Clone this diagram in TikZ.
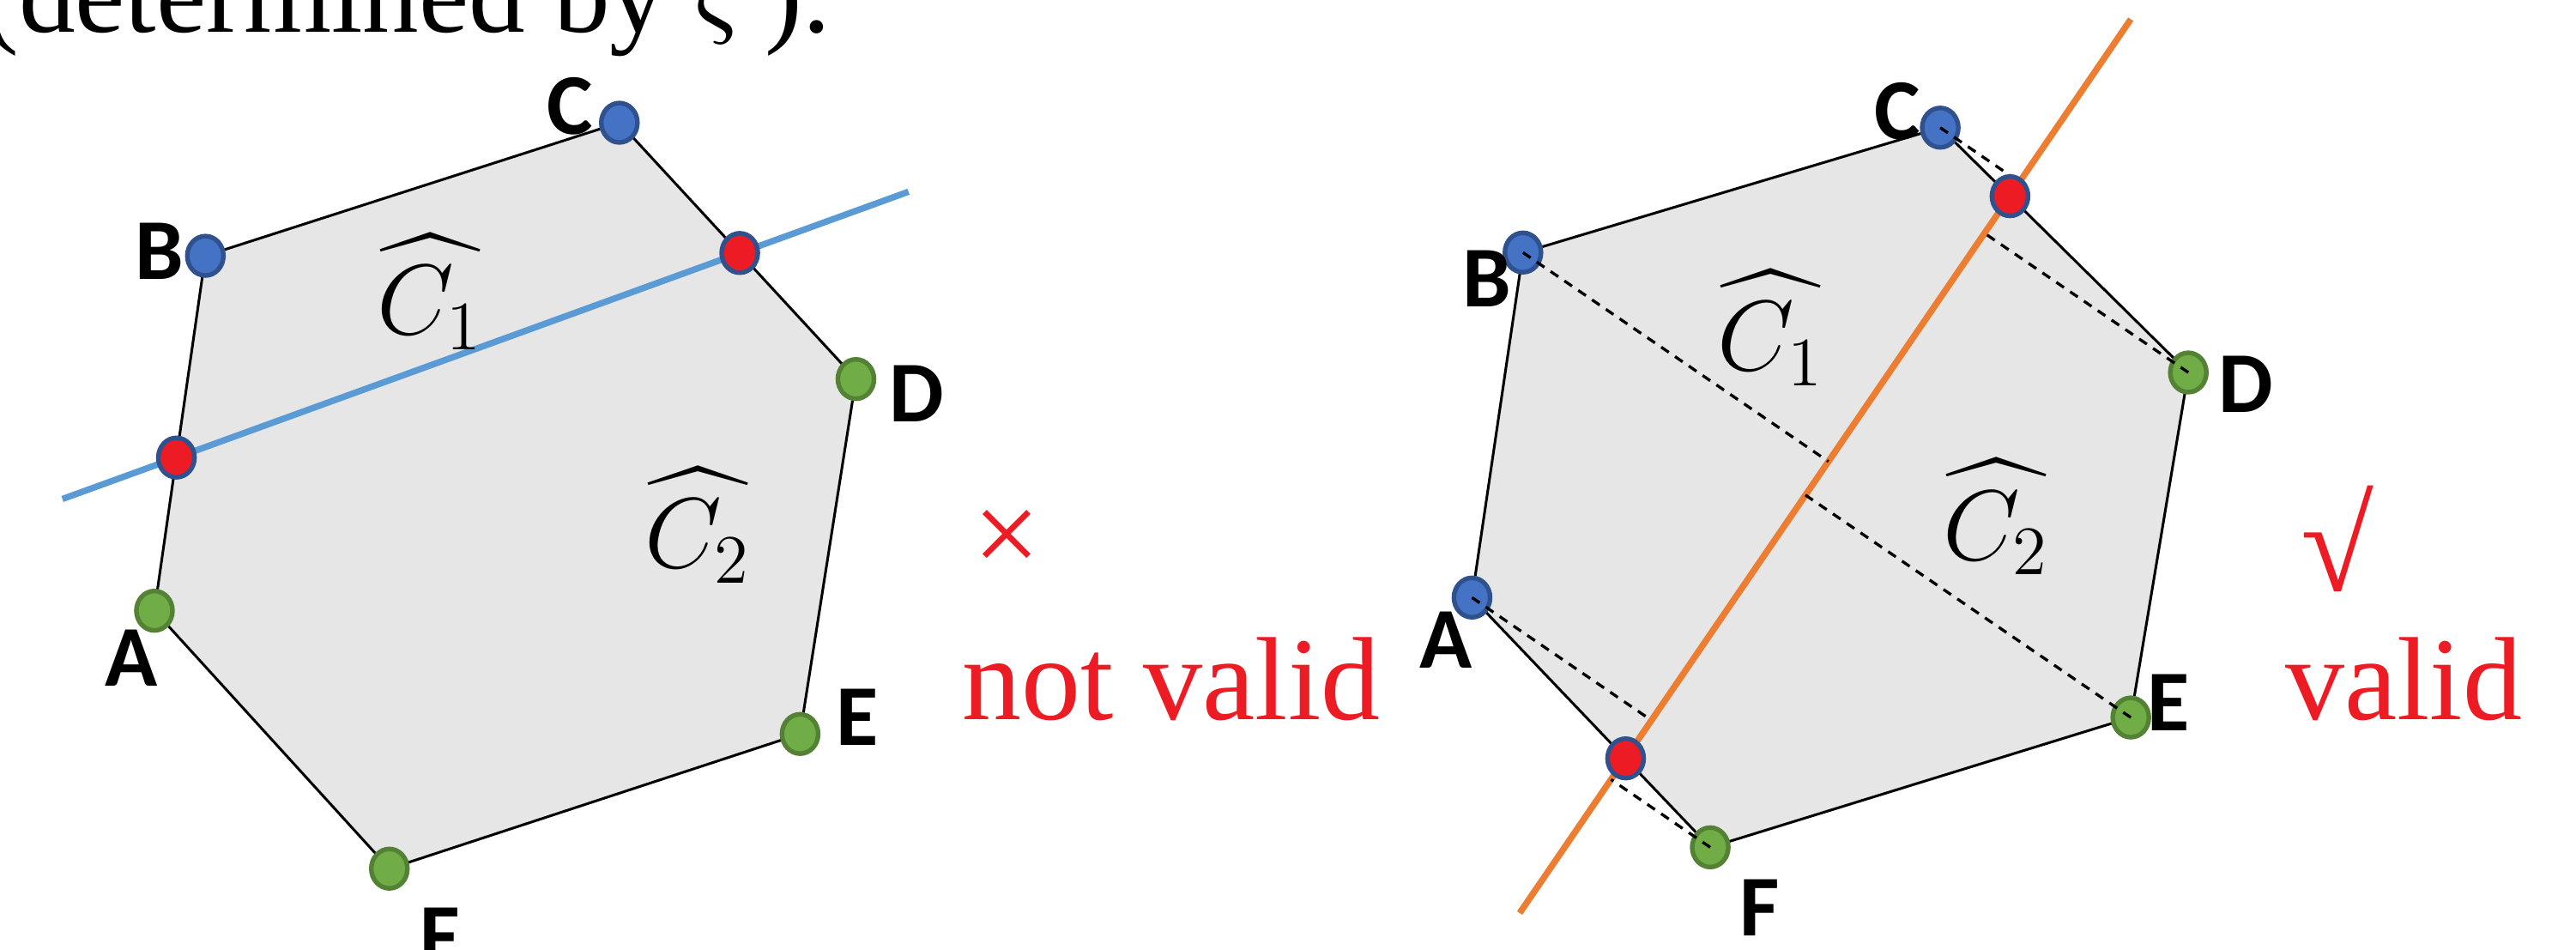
\documentclass[tikz,border=0pt]{standalone}
\usepackage{amsmath}
\usepackage{fontspec}
\setmainfont{Liberation Serif}
\newfontfamily\labelfont{Carlito}
\usetikzlibrary{
  arrows.meta,
  positioning,
  calc,
  shapes.geometric
}
\definecolor{DotBlue}{RGB}{68,114,196}
\definecolor{DotBlueEdge}{RGB}{47,82,143}
\definecolor{DotGreen}{RGB}{112,173,71}
\definecolor{DotGreenEdge}{RGB}{84,130,53}
\definecolor{DotRed}{RGB}{237,28,36}
\definecolor{HullGray}{RGB}{231,230,230}
\definecolor{CutBlue}{RGB}{91,155,213}
\definecolor{CutOrange}{RGB}{237,125,49}
\definecolor{VerdictRed}{RGB}{237,28,36}
\tikzset{
  hull/.style={draw=black,fill=HullGray,line width=0.45pt,line join=round},
  cutblue/.style={draw=CutBlue,line width=1.1pt},
  cutorange/.style={draw=CutOrange,line width=1.1pt},
  bluedot/.style={ellipse,draw=DotBlueEdge,fill=DotBlue,line width=0.8pt,minimum width=2.2mm,minimum height=2.4mm,inner sep=0pt},
  greendot/.style={ellipse,draw=DotGreenEdge,fill=DotGreen,line width=0.8pt,minimum width=2.2mm,minimum height=2.4mm,inner sep=0pt},
  reddot/.style={ellipse,draw=DotBlueEdge,fill=DotRed,line width=0.8pt,minimum width=2.2mm,minimum height=2.4mm,inner sep=0pt},
  vertexlabel/.style={font=\labelfont\bfseries\fontsize{15}{15}\selectfont,inner sep=0pt},
  partlabel/.style={font=\fontsize{16.5}{17}\selectfont,inner sep=0pt},
  verdict/.style={text=VerdictRed,font=\fontsize{20.5}{21}\selectfont,inner sep=0pt},
  topline/.style={font=\fontsize{19.5}{20}\selectfont,inner sep=0pt},
  projline/.style={dash pattern=on 1.6pt off 1.3pt,line width=0.5pt}
}

\begin{document}
\begin{tikzpicture}
\useasboundingbox (0,0) rectangle (15.68,5.777);
\clip (0,0) rectangle (15.68,5.777);
\node[topline, anchor=base west] (caption) at (-0.12,5.58) {(determined by $\varsigma$\,).};

% left: not valid
\coordinate (lA) at (0.94,2.06);
\coordinate (lB) at (1.25,4.22);
\coordinate (lC) at (3.77,5.03);
\coordinate (lD) at (5.21,3.47);
\coordinate (lE) at (4.87,1.31);
\coordinate (lF) at (2.37,0.49);
\coordinate (lcut1) at (0.38,2.74);
\coordinate (lcut2) at (5.53,4.61);
\filldraw[hull] (lA) -- (lB) -- (lC) -- (lD) -- (lE) -- (lF) -- cycle;
\draw[cutblue] (lcut1) -- (lcut2);
\node[greendot] (ldotA) at (lA) {};
\node[bluedot] (ldotB) at (lB) {};
\node[bluedot] (ldotC) at (lC) {};
\node[greendot] (ldotD) at (lD) {};
\node[greendot] (ldotE) at (lE) {};
\node[greendot] (ldotF) at (lF) {};
\node[reddot] (lhit1) at (intersection of lA--lB and lcut1--lcut2) {};
\node[reddot] (lhit2) at (intersection of lC--lD and lcut1--lcut2) {};
\node[vertexlabel] (lnameA) at (0.80,1.77) {A};
\node[vertexlabel] (lnameB) at (0.97,4.25) {B};
\node[vertexlabel] (lnameC) at (3.47,5.13) {C};
\node[vertexlabel] (lnameD) at (5.58,3.38) {D};
\node[vertexlabel] (lnameE) at (5.22,1.41) {E};
\node[vertexlabel] (lnameF) at (2.68,0.08) {F};
\node[partlabel] (lpart1) at (2.62,4.00) {$\widehat{C_1}$};
\node[partlabel] (lpart2) at (4.25,2.58) {$\widehat{C_2}$};
\node[verdict] (lmark) at (6.13,2.48) {×};
\node[verdict, anchor=base] (lverdict) at (7.13,1.40) {not valid};

% right: valid
\coordinate (rA) at (8.96,2.14);
\coordinate (rB) at (9.27,4.24);
\coordinate (rC) at (11.81,5.00);
\coordinate (rD) at (13.32,3.51);
\coordinate (rE) at (12.97,1.41);
\coordinate (rF) at (10.41,0.62);
\coordinate (rcut1) at (9.25,0.22);
\coordinate (rcut2) at (12.97,5.66);
\filldraw[hull] (rA) -- (rB) -- (rC) -- (rD) -- (rE) -- (rF) -- cycle;
\draw[cutorange] (rcut1) -- (rcut2);
\node[bluedot] (rdotA) at (rA) {};
\node[bluedot] (rdotB) at (rB) {};
\node[bluedot] (rdotC) at (rC) {};
\node[greendot] (rdotD) at (rD) {};
\node[greendot] (rdotE) at (rE) {};
\node[greendot] (rdotF) at (rF) {};
\foreach \v in {A,B,C,D,E,F}
  \draw[projline] (rdot\v.center) -- ($(rcut1)!(rdot\v.center)!(rcut2)$);
\node[reddot] (rhit1) at (intersection of rA--rF and rcut1--rcut2) {};
\node[reddot] (rhit2) at (intersection of rC--rD and rcut1--rcut2) {};
\node[vertexlabel] (rnameA) at (8.80,1.88) {A};
\node[vertexlabel] (rnameB) at (9.05,4.08) {B};
\node[vertexlabel] (rnameC) at (11.55,5.10) {C};
\node[vertexlabel] (rnameD) at (13.67,3.44) {D};
\node[vertexlabel] (rnameE) at (13.20,1.50) {E};
\node[vertexlabel] (rnameF) at (10.71,0.25) {F};
\node[partlabel] (rpart1) at (10.78,3.78) {$\widehat{C_1}$};
\node[partlabel] (rpart2) at (12.15,2.63) {$\widehat{C_2}$};
\node[verdict, font=\fontsize{23}{23}\selectfont] (rmark) at (14.23,2.50) {√};
\node[verdict, anchor=base] (rverdict) at (14.63,1.40) {valid};
\end{tikzpicture}
\end{document}
